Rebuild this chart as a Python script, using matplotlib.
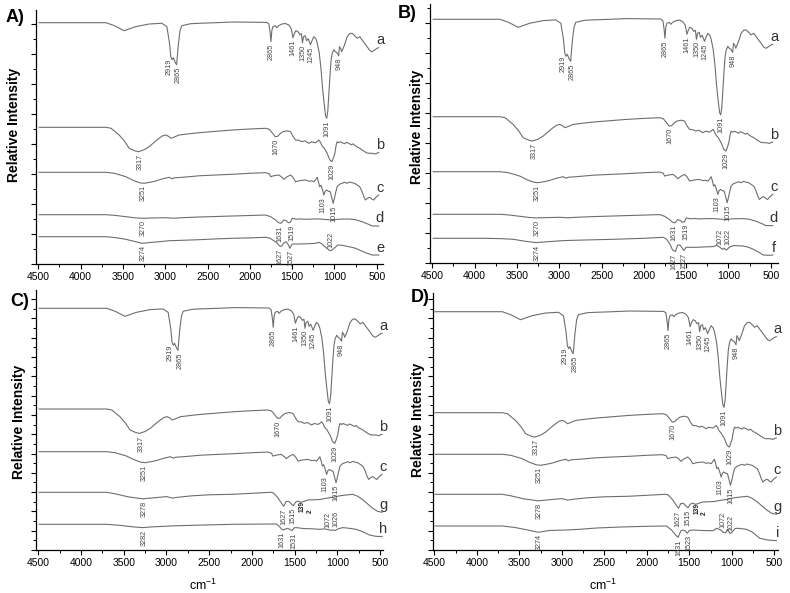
import numpy as np
import matplotlib
matplotlib.use("Agg")
import matplotlib.pyplot as plt
from matplotlib.ticker import MultipleLocator

plt.rcParams['font.family'] = ['Liberation Sans', 'DejaVu Sans']
plt.rcParams['mathtext.fontset'] = 'custom'
plt.rcParams['mathtext.rm'] = 'Liberation Sans'

# ---------------- spectra (wavenumber, relative offset from own baseline) -------------
a_wn = [4490, 3700, 3600, 3485, 3350, 3190, 3040, 2980, 2950, 2934, 2919, 2905, 2880, 2865, 2845, 2825, 2804,
        2700, 2600, 2400, 2200, 2000, 1800, 1775, 1760, 1750, 1740, 1727, 1700, 1680, 1660, 1620, 1580, 1540,
        1510, 1490, 1475, 1455, 1430, 1410, 1390, 1378, 1365, 1345, 1330, 1310, 1283, 1265, 1243, 1220, 1204,
        1180, 1160, 1140, 1120, 1105, 1091, 1078, 1065, 1052, 1040, 1027, 1007, 990, 970, 950, 940, 925, 913,
        880, 850, 820, 791, 760, 732, 700, 673, 640, 614, 580, 555, 520, 496, 476]
a_int = [0, 0, -3, -8, -4, -1.3, -0.6, -4, -20, -34, -37, -35, -40, -42, -22, -8, -3,
         -1, -0.6, 0, 0.7, 0.5, 0.3, -1.3, -10, -19, -8, -4, -3, -5, -3, -1.3, -0.8, -2.3,
         -6, -15, -11, -8, -9, -12, -11, -20, -14, -13, -18, -16, -22, -18, -14, -16, -20,
         -30, -45, -66, -82, -93, -95.6, -88, -70, -52, -38, -31, -27, -29, -30, -33, -24, -26, -29,
         -22, -14, -11, -10.6, -13, -15.6, -14, -17.3, -21, -24, -28, -29, -27, -25.6, -25]

b_wn = [4490, 3700, 3640, 3544, 3480, 3426, 3360, 3317, 3250, 3190, 3130, 3072, 3030, 2993, 2960, 2934, 2900,
        2836, 2700, 2600, 2400, 2207, 2000, 1813, 1770, 1740, 1700, 1670, 1650, 1610, 1560, 1518, 1490, 1459,
        1420, 1384, 1350, 1302, 1270, 1223, 1200, 1184, 1165, 1152, 1120, 1086, 1054, 1029, 1010, 995, 980,
        968, 950, 930, 909, 880, 860, 830, 800, 780, 751, 700, 673, 620, 594, 550, 515, 490, 476]
b_int = [0, 0, -1, -7.7, -14, -21, -23.5, -24.4, -22.5, -19.4, -15, -11, -8.5, -7.7, -9, -11, -10,
         -7.7, -6.3, -5.4, -4, -2.7, -1.7, -1, -2, -5, -9.4, -9, -7, -4.4, -3.5, -4.4, -9, -12.7,
         -13, -14.4, -13.5, -16, -14.5, -15.4, -14, -12.7, -15, -17.7, -21, -26, -32.7, -34.4, -30, -26, -18,
         -14.4, -15.5, -14.5, -15.4, -16.5, -15, -16, -17.5, -16.5, -18.7, -21, -22.7, -25.5, -26, -26, -26.7,
         -25.5, -25.4]

c_wn = [4490, 3700, 3600, 3465, 3380, 3300, 3251, 3180, 3111, 3030, 2954, 2920, 2890, 2797, 2600, 2400, 2207,
        2000, 1813, 1770, 1754, 1720, 1680, 1656, 1620, 1597, 1560, 1518, 1490, 1459, 1420, 1380, 1341, 1300,
        1270, 1243, 1220, 1204, 1190, 1175, 1160, 1140, 1125, 1110, 1095, 1070, 1050, 1030, 1015, 1000, 985,
        968, 940, 909, 880, 850, 820, 795, 760, 732, 700, 673, 650, 633, 610, 590, 574, 555, 535, 510, 476]
c_int = [0, 0, -1, -4.4, -8, -10.5, -11, -10, -8.7, -6.5, -5, -6.5, -5.5, -5, -3.5, -2.7, -2,
         -1, -0.4, -1.5, -4.4, -3.5, -3, -2.7, -5, -7, -4.5, -2.7, -5, -9.4, -8.5, -8, -7.7, -9,
         -8.5, -9.4, -7, -5, -9, -14.4, -13, -18, -22.7, -19, -17.7, -19, -19.4, -26, -31, -26, -20,
         -14.4, -12, -11, -10, -11, -9.7, -10.4, -11, -12.7, -14.5, -19.4, -25, -27.7, -26, -25, -25.4, -27,
         -27.7, -25, -22.7]

d_wn = [4490, 3700, 3600, 3465, 3350, 3270, 3150, 2993, 2900, 2800, 2600, 2400, 2207, 2000, 1813, 1754, 1700,
        1660, 1631, 1600, 1570, 1546, 1519, 1499, 1450, 1400, 1341, 1250, 1184, 1100, 1027, 950, 830, 750,
        673, 600, 555, 476]
d_int = [0, 0, -0.6, -2, -3.2, -3.6, -3.3, -3, -3.5, -3, -2.3, -1.8, -1.3, -0.8, -0.3, -2, -5,
         -8, -8.6, -5.3, -6, -8, -7.5, -3.6, -4.5, -4.2, -4.6, -4.3, -4.3, -4.8, -5.3, -4.5, -4.3, -5,
         -7, -9.5, -11.3, -11.3]

e_wn = [4490, 3700, 3580, 3465, 3350, 3274, 3180, 3072, 2950, 2800, 2600, 2400, 2207, 2000, 1813, 1760, 1730,
        1680, 1650, 1627, 1600, 1570, 1545, 1527, 1505, 1490, 1420, 1300, 1223, 1184, 1150, 1100, 1060, 1040,
        1022, 990, 960, 920, 870, 800, 751, 700, 633, 580, 555, 476]
e_int = [0, 0, -1, -2.6, -5, -6.6, -5.8, -5, -4, -3.6, -3, -2.2, -1.6, -1.2, -0.6, -1.5, -3.3,
         -6, -9.3, -9.6, -6.5, -5, -8, -11.6, -8, -7.3, -7.3, -7, -6.6, -5.6, -7, -11, -13.5, -14,
         -13, -10.5, -8.3, -8.5, -9.3, -10.5, -11.6, -13.5, -16, -17.5, -18.3, -18.3]

f_wn = [4490, 3900, 3700, 3543, 3400, 3274, 3150, 2950, 2700, 2361, 2000, 1770, 1730, 1690, 1660, 1627, 1600,
        1570, 1545, 1527, 1500, 1450, 1376, 1250, 1179, 1139, 1100, 1072, 1050, 1022, 990, 942, 880, 824,
        760, 706, 640, 588, 520, 476]
f_int = [0, 0, -0.3, -1, -3, -4.3, -3.5, -2.3, -1.7, -1, 0, 1, -1, -6, -11.7, -13.3, -6.7,
         -7, -10, -12.3, -9, -9, -9, -8.5, -8.3, -7, -9, -11, -10, -11.7, -9, -7.3, -7.5, -7.7,
         -9, -11, -14, -16.7, -17, -16.7]

g_wn = [4490, 3700, 3600, 3450, 3278, 3150, 2998, 2930, 2870, 2700, 2500, 2222, 2000, 1780, 1750, 1700, 1660,
        1627, 1600, 1570, 1540, 1515, 1490, 1461, 1430, 1403, 1344, 1280, 1208, 1130, 1052, 970, 896, 818,
        760, 701, 640, 584, 530, 476]
g_int = [0, 0, -1.5, -4.5, -6.5, -5.5, -4.3, -5.8, -5, -3.5, -2.5, -2, -1, 0, -0.5, -5, -10,
         -14, -9.3, -9, -11.5, -13.5, -10, -8.8, -10, -9.5, -7.7, -7.5, -7.2, -6, -5, -3.5, -2.7, -2,
         -4, -7.5, -12, -16, -19, -20]

h_wn = [4490, 3700, 3550, 3400, 3282, 3150, 2900, 2600, 2222, 1900, 1711, 1680, 1650, 1631, 1600, 1578, 1550,
        1531, 1505, 1481, 1400, 1300, 1208, 1150, 1100, 1072, 1050, 1026, 990, 935, 860, 779, 700, 623,
        550, 476]
h_int = [0, 0, -1, -2.5, -3.3, -2.5, -1.5, -0.8, 0, 0.2, 0.3, -2, -5, -5.7, -4.5, -4, -5.5,
         -6.3, -3.5, -3.3, -4.2, -4.5, -5, -4.6, -5.5, -6, -5.6, -6.3, -4.5, -3.3, -4, -5, -7.5, -10.7,
         -12, -12.3]

i_wn = [4490, 3700, 3550, 3400, 3274, 3150, 2950, 2787, 2591, 2300, 2000, 1768, 1709, 1660, 1631, 1600, 1572,
        1545, 1523, 1500, 1454, 1350, 1219, 1180, 1130, 1101, 1072, 1050, 1022, 1003, 960, 925, 827, 760,
        670, 580, 474]
i_int = [0, 0, -1.5, -4, -6.3, -4.5, -4, -3.3, -2, -1, -0.3, 0, -4, -9, -11.3, -5, -4,
         -5, -7.3, -4.5, -4, -4.5, -4.7, -2.3, -4, -6.3, -6.8, -3.3, -7.3, -6.8, -2.5, -2.3, -3.3, -6,
         -12.3, -14, -14.7]

spectra = {'a': (a_wn, a_int), 'b': (b_wn, b_int), 'c': (c_wn, c_int), 'd': (d_wn, d_int),
           'e': (e_wn, e_int), 'f': (f_wn, f_int), 'g': (g_wn, g_int), 'h': (h_wn, h_int),
           'i': (i_wn, i_int)}

# peak labels: (text, wavenumber position, below/above)
peak_labels = {
    'a': [("2919", 2955, 'b'), ("2865", 2842, 'b'), ("2865", 1750, 'b'), ("1461", 1490, 'b'),
          ("1350", 1378, 'b'), ("1245", 1283, 'b'), ("948", 950, 'b'), ("1091", 1091, 'b')],
    'b': [("3317", 3300, 'b'), ("1670", 1690, 'b'), ("1029", 1025, 'b')],
    'c': [("3251", 3260, 'b'), ("1103", 1140, 'b'), ("1015", 1012, 'b')],
    'd': [("3270", 3265, 'b'), ("1631", 1645, 'b'), ("1519", 1505, 'b')],
    'e': [("3274", 3265, 'b'), ("1627", 1650, 'b'), ("1527", 1512, 'b'), ("1022", 1040, 'a')],
    'f': [("3274", 3265, 'b'), ("1627", 1645, 'b'), ("1527", 1530, 'b'), ("1072", 1105, 'a'),
          ("1022", 1010, 'a')],
    'g': [("3278", 3265, 'b'), ("1627", 1630, 'b'), ("1515", 1515, 'b')],
    'h': [("3282", 3265, 'b'), ("1631", 1645, 'b'), ("1531", 1505, 'b'), ("1072", 1108, 'a'),
          ("1026", 1018, 'a')],
    'i': [("3274", 3265, 'b'), ("1631", 1625, 'b'), ("1523", 1500, 'b'), ("1072", 1105, 'a'),
          ("1022", 1005, 'a')],
}

# panels: label, spectra with baselines
panel_names = ['A)', 'B)', 'C)', 'D)']
panel_series = [['a', 'b', 'c', 'd', 'e'], ['a', 'b', 'c', 'd', 'f'],
                ['a', 'b', 'c', 'g', 'h'], ['a', 'b', 'c', 'g', 'i']]
panel_baselines = [[241.3, 136.7, 91.7, 49.3, 27.3], [243.7, 146.3, 91.3, 48.7, 24.7],
                   [241.7, 141.0, 98.3, 57.7, 25.7], [238.3, 137.3, 95.7, 55.7, 24.0]]
x_ticks = [4500, 4000, 3500, 3000, 2500, 2000, 1500, 1000, 500]

# ---------------- layout ----------------
W, H = 790, 593
fig = plt.figure(figsize=(W / 100, H / 100), dpi=100)

def frac(l, t, r, b):
    return [l / W, (H - b) / H, (r - l) / W, (b - t) / H]

rects = [frac(36, 10, 383, 264), frac(430, 4, 778, 263), frac(36, 290, 383, 550), frac(433, 293, 778, 550)]
xlims = [(4527, 426), (4527, 414), (4527, 465), (4515, 456)]
ylims = [254, 259, 260, 257]
ytick_major = [30, 30, 19.3, 19.3]
panel_label_pos = [(15, 17), (407, 14), (20, 301), (420, 297)]
ylabel_pos = [(14, 125), (417, 127), (19, 422), (418, 420)]
xlabel_pos = [None, None, (203, 585), (603, 585)]

line_color = '#6e6e6e'
label_color = '#444444'

for k in range(4):
    ax = fig.add_axes(rects[k])
    for sname, base in zip(panel_series[k], panel_baselines[k]):
        wn, rel = spectra[sname]
        wn = np.array(wn, float)
        y = base + np.array(rel, float)
        ax.plot(wn, y, color=line_color, lw=0.8)
        ax.text(462, y[-1] + 7.5, sname, fontsize=10.5, ha='center', va='center', color='#333333')
        for txt, pos, side in peak_labels[sname]:
            m = (wn >= pos - 28) & (wn <= pos + 28)
            if side == 'b':
                yy = min(np.interp(pos, wn[::-1], y[::-1]), y[m].min() if m.any() else 1e9) - 2
                ax.text(pos, yy, txt, rotation=90, fontsize=5.2, ha='center', va='top', color=label_color)
            else:
                yy = max(np.interp(pos, wn[::-1], y[::-1]), y[m].max() if m.any() else -1e9) + 2
                ax.text(pos, yy, txt, rotation=90, fontsize=5.2, ha='center', va='bottom', color=label_color)
        if sname == 'g':
            ax.text(1410, base - 9, "139", rotation=90, fontsize=4.8, fontweight='bold',
                    ha='center', va='top', color='#222222')
            ax.text(1320, base - 17, "2", rotation=90, fontsize=4.8, fontweight='bold',
                    ha='center', va='top', color='#222222')
    ax.set_xlim(*xlims[k])
    ax.set_ylim(0, ylims[k])
    ax.spines['top'].set_visible(False)
    ax.spines['right'].set_visible(False)
    for s in ('left', 'bottom'):
        ax.spines[s].set_linewidth(0.9)
    ax.set_xticks(x_ticks)
    ax.set_xticklabels([str(t) for t in x_ticks], fontsize=7.5)
    ax.xaxis.set_minor_locator(MultipleLocator(250))
    ax.yaxis.set_major_locator(MultipleLocator(ytick_major[k]))
    ax.yaxis.set_minor_locator(MultipleLocator(ytick_major[k] / 2))
    ax.set_yticklabels([])
    ax.tick_params(which='major', direction='out', length=3.5, width=0.8, pad=2)
    ax.tick_params(which='minor', direction='out', length=2, width=0.7)
    ax.tick_params(axis='y', which='both', labelleft=False)

    px, py = panel_label_pos[k]
    fig.text(px / W, 1 - py / H, panel_names[k], fontsize=13, fontweight='bold', ha='center', va='center')
    lx, ly = ylabel_pos[k]
    fig.text(lx / W, 1 - ly / H, 'Relative Intensity', fontsize=10, fontweight='bold', rotation=90,
             ha='center', va='center')
    if xlabel_pos[k] is not None:
        cx, cy = xlabel_pos[k]
        fig.text(cx / W, 1 - cy / H, r'cm$^{-1}$', fontsize=9, ha='center', va='center')

fig.savefig('out.png', dpi=100)
